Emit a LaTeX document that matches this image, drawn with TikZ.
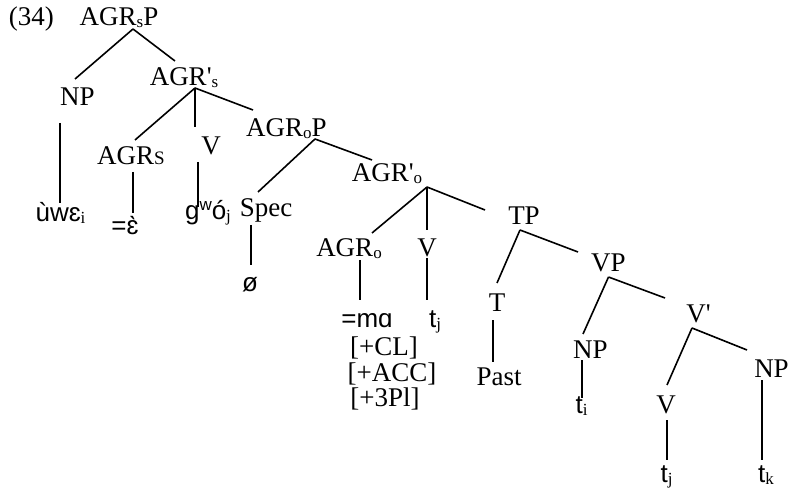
\documentclass[tikz,border=0pt]{standalone}
\usepackage{fontspec}
\setmainfont{Liberation Serif}
\newfontfamily\leaffont{Liberation Sans}
\newcommand{\lbl}{\fontsize{27}{32}\selectfont}
\newcommand{\lf}{\leaffont\fontsize{26}{31}\selectfont}
\newcommand{\subsc}[1]{\raisebox{-2pt}{\rmfamily\fontsize{17}{17}\selectfont #1}}
\newcommand{\prm}{\textquotesingle}

\begin{document}
\begin{tikzpicture}[x=1pt, y=-1pt, line width=1.6pt,
      every node/.style={inner sep=0pt, anchor=base, font=\lbl},
      leaf/.style={font=\lf}]
  \useasboundingbox (0,0) rectangle (793,489);
  \node[anchor=base west] (num) at (8,26) {(34)};
  % AGRs projection
  \node (sP)   at (119,26)  {AGR\subsc{s}P};
  \node (np1)  at (77.5,106) {NP};
  \node (sbar) at (184,86)  {AGR\prm\subsc{s}};
  \node (agrs) at (131,165) {AGR{\fontsize{19}{19}\selectfont S}};
  \node (v1)   at (211,155) {V};
  \node[leaf] (uwe)  at (60.5,222) {ùwɛ\subsc{i}};
  \node[leaf] (clE)  at (125,235) {=ɛ̀};
  \node[leaf] (gwoj) at (208,220) {g\raisebox{9pt}{\fontsize{17}{17}\selectfont w}ó\subsc{j}};
  % AGRo projection
  \node (oP)   at (286.5,137) {AGR\subsc{o}P};
  \node (spec) at (266,217) {Spec};
  \node (obar) at (387,182) {AGR\prm\subsc{o}};
  \node[leaf] (nul) at (250,292) {ø};
  \node (agro) at (349,257) {AGR\subsc{o}};
  \node (v2)   at (427,257) {V};
  \node[leaf] (ma)  at (367,327) {=mɑ};
  \node[leaf] (tj1) at (435,327) {t\subsc{j}};
  \node (cl)   at (384,355) {[+CL]};
  \node (acc)  at (392,381) {[+ACC]};
  \node (pl)   at (385,406) {[+3Pl]};
  % TP and VP
  \node (tp)   at (524,225) {TP};
  \node (t)    at (497,312) {T};
  \node (past) at (499,385) {Past};
  \node (vp)   at (608.5,272) {VP};
  \node (np2)  at (590.5,358) {NP};
  \node[leaf] (ti) at (581.5,413) {t\subsc{i}};
  \node (vbar) at (698.5,323) {V\prm};
  \node (v3)   at (666,413) {V};
  \node (np3)  at (771.5,377) {NP};
  \node[leaf] (tj2) at (666.5,482) {t\subsc{j}};
  \node[leaf] (tk)  at (766,482) {t\subsc{k}};

  % branches
  \draw ([shift={(14,3)}]sP.base) -- ([shift={(-2.5,-27)}]np1.base);
  \draw ([shift={(14,3)}]sP.base) -- ([shift={(-9,-25)}]sbar.base);
  \draw ([shift={(-17.5,17)}]np1.base) -- ([shift={(-0.5,-19)}]uwe.base);
  \draw ([shift={(11,2)}]sbar.base) -- ([shift={(4,-25)}]agrs.base);
  \draw ([shift={(11,2)}]sbar.base) -- ([shift={(-16,-28)}]v1.base);
  \draw ([shift={(11,2)}]sbar.base) -- ([shift={(-33.5,-27)}]oP.base);
  \draw ([shift={(2,7)}]agrs.base) -- ([shift={(8,-22)}]clE.base);
  \draw ([shift={(-13,7)}]v1.base) -- ([shift={(-10,-13)}]gwoj.base);
  \draw ([shift={(28.5,2)}]oP.base) -- ([shift={(-8,-25)}]spec.base);
  \draw ([shift={(28.5,2)}]oP.base) -- ([shift={(-15,-22)}]obar.base);
  \draw ([shift={(-15,8)}]spec.base) -- ([shift={(1,-27)}]nul.base);
  \draw ([shift={(40,5)}]obar.base) -- ([shift={(23,-24)}]agro.base);
  \draw ([shift={(40,5)}]obar.base) -- ([shift={(0,-27)}]v2.base);
  \draw ([shift={(40,5)}]obar.base) -- ([shift={(-39,-15)}]tp.base);
  \draw ([shift={(11,3)}]agro.base) -- ([shift={(-7,-27)}]ma.base);
  \draw ([shift={(0,1)}]v2.base) -- ([shift={(-8,-27)}]tj1.base);
  \draw ([shift={(-4,5)}]tp.base) -- ([shift={(0,-29)}]t.base);
  \draw ([shift={(-4,5)}]tp.base) -- ([shift={(-30.5,-20)}]vp.base);
  \draw ([shift={(-4,8)}]t.base) -- ([shift={(-6,-23)}]past.base);
  \draw ([shift={(0,5)}]vp.base) -- ([shift={(-7.5,-24)}]np2.base);
  \draw ([shift={(0,5)}]vp.base) -- ([shift={(-33.5,-25)}]vbar.base);
  \draw ([shift={(-8.5,2)}]np2.base) -- ([shift={(0.5,-15)}]ti.base);
  \draw ([shift={(-6.5,5)}]vbar.base) -- ([shift={(1,-28)}]v3.base);
  \draw ([shift={(-6.5,5)}]vbar.base) -- ([shift={(-24.5,-27)}]np3.base);
  \draw ([shift={(1,7)}]v3.base) -- ([shift={(0.5,-22)}]tj2.base);
  \draw ([shift={(-9.5,3)}]np3.base) -- ([shift={(-4,-22)}]tk.base);
\end{tikzpicture}
\end{document}
